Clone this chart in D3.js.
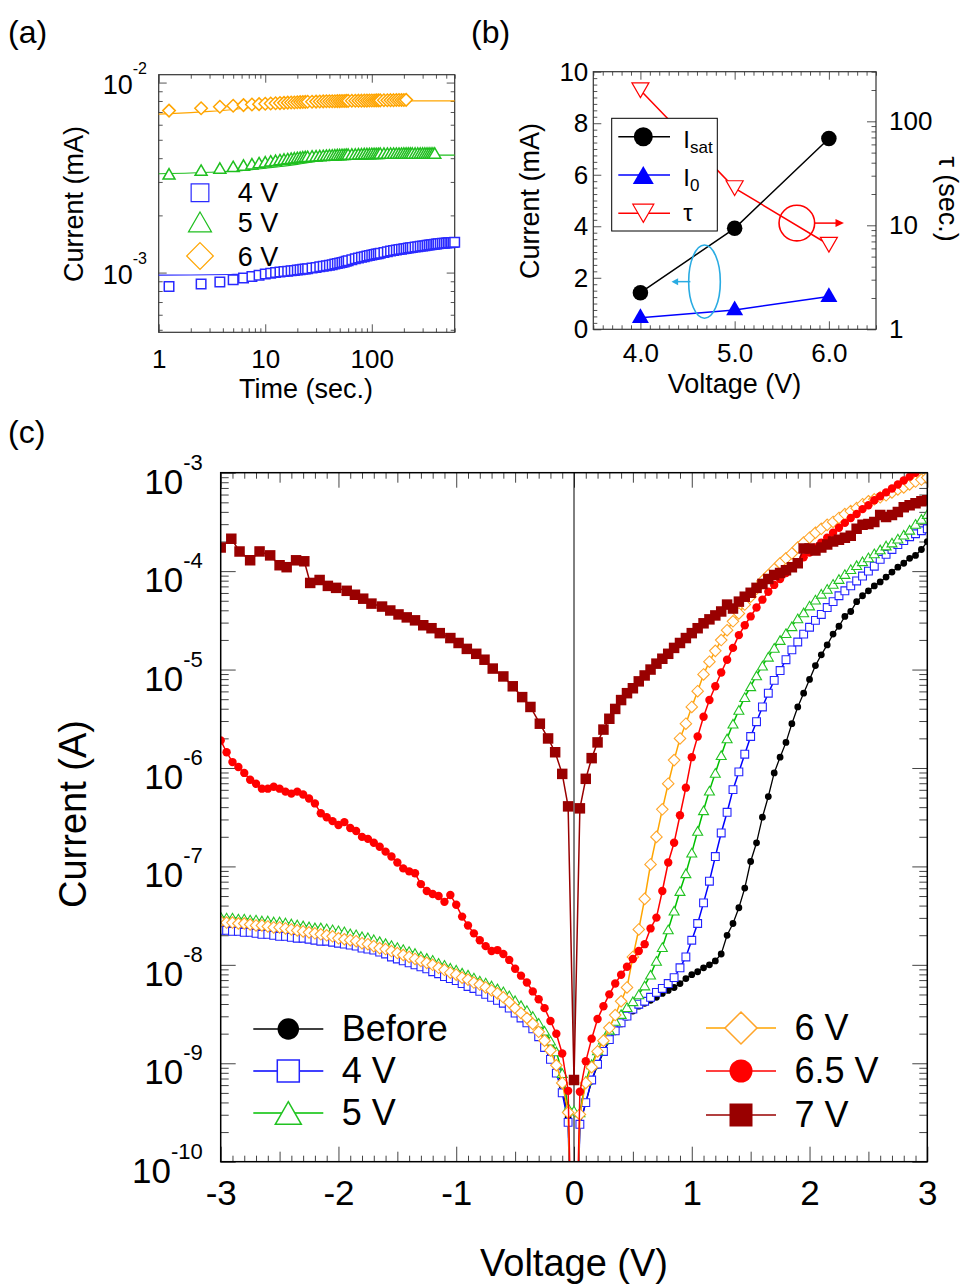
<!DOCTYPE html>
<html>
<head>
<meta charset="utf-8">
<script src="https://cdn.jsdelivr.net/npm/d3@7/dist/d3.min.js"></script>
<style>
  html,body{margin:0;padding:0;background:#fff;}
  svg{display:block;}
</style>
</head>
<body>
<svg id="fig" width="963" height="1286"></svg>
<script>
// ================= DATA =================
// ---- Panel (a): current (mA) vs time (sec.) ----
const timeA = [1.25,2.5,3.75,5,6.25,7.5,8.75,10,11.25,12.5,13.75,15,16.25,17.5,18.75,20,21.25,22.5,23.75,25,
  27.5,30,32.5,35,37.5,40,42.5,45,47.5,50,52.5,55,57.5,60,
  65,70,75,80,85,90,95,100,105,110,115,120,
  130,140,150,160,170,180,190,200,210,220,230,240,
  255,270,285,300,315,330,345,360,375,390,405,420,
  440,460,480,500,520,540,560,580,600];
const curA_4V = [8.44e-4,8.72e-4,8.92e-4,9.16e-4,9.36e-4,9.53e-4,9.68e-4,9.82e-4,9.92e-4,1.000e-3,
  1.007e-3,1.012e-3,1.017e-3,1.022e-3,1.027e-3,1.031e-3,1.036e-3,1.040e-3,1.044e-3,1.048e-3,
  1.056e-3,1.064e-3,1.072e-3,1.080e-3,1.087e-3,1.094e-3,1.101e-3,1.108e-3,1.115e-3,1.122e-3,1.130e-3,1.138e-3,1.146e-3,1.154e-3,
  1.170e-3,1.182e-3,1.193e-3,1.203e-3,1.212e-3,1.221e-3,1.230e-3,1.238e-3,1.245e-3,1.252e-3,1.258e-3,1.264e-3,
  1.276e-3,1.287e-3,1.297e-3,1.306e-3,1.314e-3,1.321e-3,1.328e-3,1.334e-3,1.340e-3,1.346e-3,1.351e-3,1.356e-3,
  1.363e-3,1.369e-3,1.375e-3,1.381e-3,1.386e-3,1.391e-3,1.396e-3,1.400e-3,1.405e-3,1.409e-3,1.413e-3,1.417e-3,
  1.421e-3,1.425e-3,1.428e-3,1.431e-3,1.434e-3,1.437e-3,1.439e-3,1.442e-3,1.444e-3];
const curA_5V = [3.31e-3,3.46e-3,3.55e-3,3.62e-3,3.68e-3,3.74e-3,3.79e-3,3.83e-3,3.87e-3,3.90e-3,
  3.93e-3,3.96e-3,3.98e-3,4.00e-3,4.02e-3,4.04e-3,4.05e-3,4.07e-3,4.08e-3,4.09e-3,
  4.11e-3,4.12e-3,4.13e-3,4.14e-3,4.15e-3,4.16e-3,4.16e-3,4.17e-3,4.18e-3,4.18e-3,4.19e-3,4.19e-3,4.20e-3,4.20e-3,
  4.21e-3,4.21e-3,4.22e-3,4.22e-3,4.23e-3,4.23e-3,4.23e-3,4.24e-3,4.24e-3,4.24e-3,4.24e-3,4.25e-3,
  4.25e-3,4.25e-3,4.25e-3,4.25e-3,4.25e-3,4.25e-3,4.25e-3,4.26e-3,4.26e-3,4.26e-3,4.26e-3,4.26e-3,
  4.26e-3,4.26e-3,4.26e-3,4.26e-3,4.26e-3,4.26e-3,4.26e-3,4.26e-3,4.26e-3,4.26e-3];
const curA_6V = [7.12e-3,7.33e-3,7.46e-3,7.55e-3,7.61e-3,7.66e-3,7.70e-3,7.73e-3,7.76e-3,7.78e-3,
  7.80e-3,7.82e-3,7.84e-3,7.85e-3,7.86e-3,7.88e-3,7.89e-3,7.90e-3,7.91e-3,7.92e-3,
  7.93e-3,7.94e-3,7.95e-3,7.96e-3,7.97e-3,7.97e-3,7.98e-3,7.98e-3,7.99e-3,7.99e-3,8.00e-3,8.00e-3,8.01e-3,8.01e-3,
  8.02e-3,8.02e-3,8.03e-3,8.03e-3,8.04e-3,8.04e-3,8.05e-3,8.05e-3,8.05e-3,8.06e-3,8.06e-3,8.06e-3,
  8.07e-3,8.07e-3,8.08e-3,8.08e-3,8.09e-3,8.09e-3,8.10e-3,8.10e-3,8.11e-3];
const fitT = [1,2,3,5,7,10,15,20,30,50,70,100,150,200,300,400,500,600];
const fitA_4V = [9.70e-4,9.72e-4,9.74e-4,9.78e-4,9.81e-4,9.85e-4,9.93e-4,1.01e-3,1.03e-3,1.08e-3,1.13e-3,1.21e-3,1.27e-3,1.32e-3,1.38e-3,1.41e-3,1.43e-3,1.44e-3];
const fitA_5V = [3.31e-3,3.34e-3,3.37e-3,3.42e-3,3.47e-3,3.54e-3,3.63e-3,3.71e-3,3.84e-3,3.98e-3,4.05e-3,4.09e-3,4.12e-3,4.14e-3,4.15e-3,4.15e-3,4.15e-3,4.15e-3];
const fitA_6V = [6.82e-3,6.95e-3,7.05e-3,7.22e-3,7.38e-3,7.55e-3,7.75e-3,7.86e-3,7.95e-3,8.00e-3,8.01e-3,8.01e-3,8.01e-3,8.01e-3,8.01e-3,8.01e-3,8.01e-3,8.01e-3];
const labelsA = ["4 V","5 V","6 V"];
const ticksA_x = [1,10,100];
const ticksA_yExp = [-3,-2];

// ---- Panel (b): fit parameters vs voltage ----
const voltB = [4.0,5.0,6.0];
const Isat = [1.42,3.92,7.41];
const I0 = [0.45,0.75,1.27];
const tauB = [199,22.8,6.5];
const ticksB_x = [4,5,6];
const ticksB_y = [0,2,4,6,8,10];
const ticksB_tau = [1,10,100];

// ---- Panel (c): I-V curves, log10 of current (A) ----
const voltC = [-3,-2.95,-2.9,-2.85,-2.8,-2.75,-2.7,-2.65,-2.6,-2.55,-2.5,-2.45,-2.4,-2.35,-2.3,-2.25,-2.2,-2.15,-2.1,-2.05,
  -2,-1.95,-1.9,-1.85,-1.8,-1.75,-1.7,-1.65,-1.6,-1.55,-1.5,-1.45,-1.4,-1.35,-1.3,-1.25,-1.2,-1.15,-1.1,-1.05,
  -1,-0.95,-0.9,-0.85,-0.8,-0.75,-0.7,-0.65,-0.6,-0.55,-0.5,-0.45,-0.4,-0.35,-0.3,-0.25,-0.2,-0.15,-0.1,-0.05,
  0,
  0.05,0.1,0.15,0.2,0.25,0.3,0.35,0.4,0.45,0.5,0.55,0.6,0.65,0.7,0.75,0.8,0.85,0.9,0.95,1,
  1.05,1.1,1.15,1.2,1.25,1.3,1.35,1.4,1.45,1.5,1.55,1.6,1.65,1.7,1.75,1.8,1.85,1.9,1.95,2,
  2.05,2.1,2.15,2.2,2.25,2.3,2.35,2.4,2.45,2.5,2.55,2.6,2.65,2.7,2.75,2.8,2.85,2.9,2.95,3];
const logI_before = [-7.59,-7.60,-7.60,-7.61,-7.61,-7.62,-7.63,-7.63,-7.64,-7.65,
  -7.65,-7.66,-7.67,-7.68,-7.69,-7.70,-7.71,-7.72,-7.73,-7.74,
  -7.76,-7.77,-7.78,-7.79,-7.81,-7.82,-7.84,-7.86,-7.87,-7.89,
  -7.91,-7.93,-7.95,-7.97,-7.99,-8.01,-8.03,-8.06,-8.08,-8.11,
  -8.13,-8.16,-8.18,-8.21,-8.23,-8.26,-8.29,-8.32,-8.36,-8.41,
  -8.47,-8.52,-8.57,-8.63,-8.71,-8.80,-8.90,-9.05,-9.23,-9.55,
  -12,
  -9.62,-9.40,-9.18,-9.02,-8.89,-8.77,-8.68,-8.60,-8.53,-8.47,
  -8.42,-8.39,-8.36,-8.33,-8.29,-8.26,-8.23,-8.19,-8.14,-8.10,
  -8.07,-8.03,-8.00,-7.96,-7.89,-7.70,-7.58,-7.42,-7.22,-6.95,
  -6.76,-6.50,-6.29,-6.05,-5.89,-5.74,-5.55,-5.38,-5.24,-5.10,
  -4.96,-4.85,-4.75,-4.64,-4.56,-4.46,-4.41,-4.31,-4.25,-4.20,
  -4.15,-4.11,-4.06,-4.01,-3.96,-3.92,-3.87,-3.84,-3.78,-3.70];
const logI_4V = [-7.65,-7.65,-7.66,-7.66,-7.67,-7.67,-7.68,-7.69,-7.69,-7.70,
  -7.71,-7.71,-7.72,-7.73,-7.73,-7.74,-7.75,-7.76,-7.76,-7.77,
  -7.78,-7.79,-7.80,-7.81,-7.83,-7.84,-7.85,-7.87,-7.89,-7.92,
  -7.94,-7.96,-7.98,-8.00,-8.02,-8.04,-8.07,-8.09,-8.12,-8.14,
  -8.16,-8.19,-8.22,-8.24,-8.27,-8.30,-8.33,-8.36,-8.39,-8.44,
  -8.49,-8.54,-8.59,-8.65,-8.73,-8.84,-8.96,-9.10,-9.30,-9.60,
  -12,
  -9.62,-9.40,-9.17,-9.01,-8.88,-8.76,-8.67,-8.59,-8.52,-8.45,
  -8.40,-8.37,-8.33,-8.28,-8.24,-8.19,-8.13,-8.03,-7.92,-7.75,
  -7.58,-7.37,-7.15,-6.90,-6.66,-6.45,-6.22,-6.04,-5.86,-5.68,
  -5.53,-5.38,-5.24,-5.11,-5.01,-4.90,-4.80,-4.72,-4.64,-4.57,
  -4.50,-4.44,-4.37,-4.31,-4.25,-4.20,-4.15,-4.10,-4.05,-4.00,
  -3.95,-3.88,-3.83,-3.78,-3.73,-3.69,-3.65,-3.62,-3.59,-3.57];
const logI_5V = [-7.51,-7.52,-7.52,-7.53,-7.53,-7.54,-7.54,-7.55,-7.55,-7.56,
  -7.56,-7.57,-7.58,-7.59,-7.60,-7.61,-7.62,-7.62,-7.63,-7.64,
  -7.65,-7.66,-7.68,-7.69,-7.71,-7.72,-7.74,-7.76,-7.78,-7.80,
  -7.82,-7.84,-7.86,-7.88,-7.91,-7.93,-7.95,-7.98,-8.00,-8.03,
  -8.05,-8.08,-8.10,-8.13,-8.16,-8.18,-8.21,-8.24,-8.27,-8.31,
  -8.36,-8.41,-8.46,-8.52,-8.59,-8.67,-8.77,-8.88,-9.10,-9.45,
  -9.48,
  -9.50,-9.18,-9.01,-8.87,-8.76,-8.66,-8.57,-8.50,-8.43,-8.37,
  -8.30,-8.21,-8.10,-7.96,-7.82,-7.64,-7.45,-7.25,-7.07,-6.86,
  -6.64,-6.43,-6.23,-6.05,-5.87,-5.70,-5.55,-5.41,-5.28,-5.17,
  -5.06,-4.96,-4.87,-4.78,-4.70,-4.63,-4.56,-4.48,-4.42,-4.35,
  -4.29,-4.23,-4.18,-4.13,-4.08,-4.03,-3.98,-3.94,-3.90,-3.86,
  -3.82,-3.78,-3.74,-3.71,-3.67,-3.63,-3.58,-3.52,-3.47,-3.42];
const logI_6V = [-7.56,-7.57,-7.57,-7.58,-7.58,-7.59,-7.60,-7.60,-7.61,-7.62,
  -7.62,-7.63,-7.64,-7.65,-7.66,-7.67,-7.68,-7.69,-7.70,-7.71,
  -7.73,-7.74,-7.75,-7.76,-7.78,-7.79,-7.81,-7.83,-7.84,-7.86,
  -7.88,-7.90,-7.92,-7.94,-7.96,-7.98,-8.00,-8.03,-8.05,-8.08,
  -8.10,-8.13,-8.15,-8.18,-8.20,-8.23,-8.26,-8.29,-8.33,-8.38,
  -8.44,-8.49,-8.54,-8.60,-8.68,-8.77,-8.87,-9.02,-9.20,-9.50,
  -12,
  -9.52,-9.20,-9.04,-8.88,-8.77,-8.64,-8.51,-8.37,-8.23,-7.92,
  -7.64,-7.33,-6.98,-6.70,-6.42,-6.16,-5.92,-5.70,-5.55,-5.38,
  -5.22,-5.05,-4.92,-4.81,-4.70,-4.60,-4.51,-4.43,-4.34,-4.26,
  -4.18,-4.10,-4.04,-3.98,-3.92,-3.87,-3.82,-3.76,-3.71,-3.66,
  -3.61,-3.57,-3.53,-3.50,-3.46,-3.42,-3.39,-3.36,-3.32,-3.29,
  -3.27,-3.25,-3.23,-3.20,-3.17,-3.15,-3.12,-3.09,-3.07,-3.05];
const logI_6p5V = [-5.72,-5.84,-5.94,-5.99,-6.05,-6.12,-6.16,-6.21,-6.21,-6.19,
  -6.21,-6.24,-6.26,-6.24,-6.27,-6.31,-6.36,-6.46,-6.50,-6.54,
  -6.58,-6.55,-6.61,-6.64,-6.70,-6.72,-6.76,-6.80,-6.85,-6.90,
  -6.96,-7.02,-7.05,-7.07,-7.18,-7.25,-7.28,-7.30,-7.36,-7.29,
  -7.39,-7.51,-7.60,-7.68,-7.75,-7.81,-7.86,-7.85,-7.89,-7.95,
  -8.04,-8.11,-8.18,-8.27,-8.35,-8.44,-8.57,-8.70,-8.90,-9.28,
  -12,
  -9.29,-8.98,-8.75,-8.55,-8.42,-8.30,-8.19,-8.10,-8.02,-7.94,
  -7.86,-7.79,-7.63,-7.52,-7.25,-6.96,-6.76,-6.48,-6.20,-5.89,
  -5.68,-5.48,-5.31,-5.17,-5.03,-4.90,-4.78,-4.65,-4.55,-4.46,
  -4.37,-4.29,-4.21,-4.14,-4.08,-4.02,-3.96,-3.91,-3.86,-3.81,
  -3.76,-3.71,-3.66,-3.61,-3.56,-3.51,-3.46,-3.42,-3.37,-3.33,
  -3.28,-3.24,-3.20,-3.16,-3.12,-3.08,-3.04,-3.00,null,null];
const volt7Vneg = [-3,-2.91,-2.84,-2.75,-2.67,-2.58,-2.5,-2.44,-2.36,-2.29,
  -2.24,-2.16,-2.09,-2.02,-1.93,-1.86,-1.79,-1.72,-1.63,-1.56,
  -1.49,-1.42,-1.35,-1.28,-1.21,-1.14,-1.05,-0.98,-0.91,-0.83,
  -0.76,-0.69,-0.6,-0.52,-0.44,-0.37,-0.29,-0.22,-0.16,-0.1,-0.05,0];
const logI_7V = [-3.76,-3.67,-3.80,-3.89,-3.80,-3.84,-3.94,-3.96,-3.89,-3.90,
  -4.12,-4.09,-4.15,-4.17,-4.20,-4.24,-4.28,-4.33,-4.36,-4.40,
  -4.44,-4.47,-4.50,-4.55,-4.58,-4.63,-4.68,-4.73,-4.79,-4.84,
  -4.90,-4.99,-5.07,-5.17,-5.28,-5.38,-5.55,-5.70,-5.84,-6.06,-6.39,
  -9.17,
  -6.41,-6.11,-5.90,-5.74,-5.61,-5.50,-5.40,-5.31,-5.24,-5.19,
  -5.12,-5.06,-5.00,-4.94,-4.89,-4.84,-4.78,-4.73,-4.68,-4.63,
  -4.58,-4.53,-4.49,-4.45,-4.41,-4.34,-4.38,-4.31,-4.26,-4.22,
  -4.17,-4.13,-4.08,-4.04,-4.02,-3.99,-3.96,-3.92,-3.77,-3.77,
  -3.79,-3.76,-3.73,-3.70,-3.68,-3.66,-3.64,-3.57,-3.53,-3.52,
  -3.50,-3.43,-3.45,-3.43,-3.40,-3.35,-3.33,-3.31,-3.29,-3.28];
const volt7V = volt7Vneg.concat(voltC.slice(61));
const labelsC = ["Before","4 V","5 V","6 V","6.5 V","7 V"];
const ticksC_x = [-3,-2,-1,0,1,2,3];
const ticksC_yExp = [-10,-9,-8,-7,-6,-5,-4,-3];

// ================= DRAWING =================
const FONT = '"Liberation Sans", Arial, Helvetica, sans-serif';
const svg = d3.select("#fig").attr("font-family", FONT);

function sym(type, s){
  const h = s/2;
  if(type==='square') return `M${-h},${-h}H${h}V${h}H${-h}Z`;
  if(type==='diamond') return `M0,${-h}L${h},0L0,${h}L${-h},0Z`;
  if(type==='triUp'){const t=s*0.866/2; return `M0,${-t}L${h},${t}L${-h},${t}Z`;}
  if(type==='triDown'){const t=s*0.866/2; return `M0,${t}L${h},${-t}L${-h},${-t}Z`;}
  return `M${-h},0A${h},${h} 0 1,0 ${h},0A${h},${h} 0 1,0 ${-h},0Z`;
}
function addAxis(parent, axis, tr, fs, col){
  const g = parent.append("g").attr("transform", tr).call(axis);
  g.select(".domain").remove();
  g.attr("font-family", FONT);
  g.selectAll(".tick line").attr("stroke", col).attr("stroke-width", 1);
  g.selectAll(".tick text").attr("font-size", fs).attr("fill", "#000");
  return g;
}
function supLabel(parent, x, y, base, exp, fs, fsSup, dySup){
  const t = parent.append("text").attr("x", x).attr("y", y).attr("text-anchor","end").attr("font-size", fs).attr("fill","#000");
  t.append("tspan").text(base);
  t.append("tspan").attr("font-size", fsSup).attr("dy", dySup).text(exp);
}
function logMinors(lo, hi){
  const out=[];
  for(let e=Math.floor(Math.log10(lo)); e<=Math.ceil(Math.log10(hi)); e++)
    for(let m=2;m<=9;m++){const v=m*Math.pow(10,e); if(v>=lo*0.999 && v<=hi*1.001) out.push(v);}
  return out;
}

// ---------- Panel (a) ----------
{
  const A = {l:158.7, r:454.7, t:74.7, b:332.3};
  const xa = d3.scaleLog().domain([1,600]).range([A.l,A.r]);
  const ya = d3.scaleLog().domain([4.85e-4,1.1e-2]).range([A.b,A.t]);
  const g = svg.append("g");
  const tc = "#555";
  const xMin = logMinors(1,600), yMaj = ticksA_yExp.map(e=>Math.pow(10,e)), yMin = logMinors(4.85e-4,1.1e-2);
  [[ticksA_x,8],[xMin,4]].forEach(([v,L])=>{
    addAxis(g, d3.axisBottom(xa).tickValues(v).tickSize(-L).tickFormat(""), `translate(0,${A.b})`, 26, tc);
    addAxis(g, d3.axisTop(xa).tickValues(v).tickSize(-L).tickFormat(""), `translate(0,${A.t})`, 26, tc);
  });
  [[yMaj,8],[yMin,4]].forEach(([v,L])=>{
    addAxis(g, d3.axisLeft(ya).tickValues(v).tickSize(-L).tickFormat(""), `translate(${A.l},0)`, 26, tc);
    addAxis(g, d3.axisRight(ya).tickValues(v).tickSize(-L).tickFormat(""), `translate(${A.r},0)`, 26, tc);
  });
  addAxis(g, d3.axisBottom(xa).tickValues(ticksA_x).tickSize(0).tickPadding(17).tickFormat(d=>String(d)), `translate(0,${A.b})`, 26, tc);
  ticksA_yExp.forEach(e=> supLabel(g, A.l-11.7, ya(Math.pow(10,e))+11, "10", String(e), 27, 16, -20));
  g.append("rect").attr("x",A.l).attr("y",A.t).attr("width",A.r-A.l).attr("height",A.b-A.t)
    .attr("fill","none").attr("stroke","#333").attr("stroke-width",1.2);

  const sA = [
    {cur:curA_4V, fit:fitA_4V, color:"#2a2aff", mark:"square", size:9.5},
    {cur:curA_5V, fit:fitA_5V, color:"#1fbf1f", mark:"triUp", size:12},
    {cur:curA_6V, fit:fitA_6V, color:"#ffa500", mark:"diamond", size:12.5}
  ];
  const dg = g.append("g");
  const line = d3.line().x(d=>xa(d[0])).y(d=>ya(d[1])).curve(d3.curveMonotoneX);
  sA.forEach(s=>{
    dg.append("path").attr("d", line(fitT.map((t,i)=>[t,s.fit[i]]))).attr("fill","none").attr("stroke",s.color).attr("stroke-width",1.1);
    dg.selectAll(null).data(s.cur.map((c,i)=>[timeA[i],c])).enter().append("path")
      .attr("d", sym(s.mark,s.size)).attr("transform", d=>`translate(${xa(d[0])},${ya(d[1])})`)
      .attr("fill","#fff").attr("stroke",s.color).attr("stroke-width",1.5);
  });
  // legend
  const lg = g.append("g");
  const legY = [192.7,222,256], legS=[17.7,23,26.7];
  sA.forEach((s,i)=>{
    lg.append("path").attr("d", sym(s.mark, legS[i])).attr("transform",`translate(${A.l+41.3},${legY[i]})`)
      .attr("fill","none").attr("stroke",s.color).attr("stroke-width",1.2);
    lg.append("text").attr("x",A.l+79).attr("y",legY[i]+9.5).attr("font-size",27).text(labelsA[i]);
  });
  g.append("text").attr("transform","translate(83,204) rotate(-90)").attr("text-anchor","middle").attr("font-size",27).text("Current (mA)");
  g.append("text").attr("x",306).attr("y",398).attr("text-anchor","middle").attr("font-size",27).text("Time (sec.)");
  g.append("text").attr("x",8).attr("y",43).attr("font-size",32).text("(a)");
}

// ---------- Panel (b) ----------
{
  const B = {l:593.3, r:876, t:71.7, b:329.3};
  const xb = d3.scaleLinear().domain([3.5,6.5]).range([B.l,B.r]);
  const yb = d3.scaleLinear().domain([0,10]).range([B.b,B.t]);
  const yt = d3.scaleLog().domain([1,300]).range([B.b,B.t]);
  const g = svg.append("g");
  const tc = "#555";
  const xMin=[], yMin=[];
  for(let k=35;k<=65;k++){ if(k%10!==0) xMin.push(k/10); }
  for(let k=0;k<=40;k++){ if(k%8!==0) yMin.push(k/4); }
  const tMin = logMinors(1,300);
  [[ticksB_x,8],[xMin,4]].forEach(([v,L])=>{
    addAxis(g, d3.axisBottom(xb).tickValues(v).tickSize(-L).tickFormat(""), `translate(0,${B.b})`, 26, tc);
    addAxis(g, d3.axisTop(xb).tickValues(v).tickSize(-L).tickFormat(""), `translate(0,${B.t})`, 26, tc);
  });
  addAxis(g, d3.axisLeft(yb).tickValues(ticksB_y).tickSize(-8).tickPadding(5).tickFormat(d=>String(d)), `translate(${B.l},0)`, 26, tc);
  addAxis(g, d3.axisLeft(yb).tickValues(yMin).tickSize(-4).tickFormat(""), `translate(${B.l},0)`, 26, tc);
  addAxis(g, d3.axisRight(yt).tickValues(ticksB_tau).tickSize(-9).tickPadding(13).tickFormat(d=>String(d)), `translate(${B.r},0)`, 26, tc);
  addAxis(g, d3.axisRight(yt).tickValues(tMin).tickSize(-4.5).tickFormat(""), `translate(${B.r},0)`, 26, tc);
  addAxis(g, d3.axisBottom(xb).tickValues(ticksB_x).tickSize(0).tickPadding(14).tickFormat(d3.format(".1f")), `translate(0,${B.b})`, 26, tc);
  g.append("rect").attr("x",B.l).attr("y",B.t).attr("width",B.r-B.l).attr("height",B.b-B.t)
    .attr("fill","none").attr("stroke","#333").attr("stroke-width",1.2);

  const lineL = d3.line().x(d=>xb(d[0])).y(d=>yb(d[1]));
  const lineT = d3.line().x(d=>xb(d[0])).y(d=>yt(d[1]));
  g.append("path").attr("d", lineT(voltB.map((v,i)=>[v,tauB[i]]))).attr("fill","none").attr("stroke","#ff0000").attr("stroke-width",1.5);
  g.append("path").attr("d", lineL(voltB.map((v,i)=>[v,Isat[i]]))).attr("fill","none").attr("stroke","#000").attr("stroke-width",1.5);
  g.append("path").attr("d", lineL(voltB.map((v,i)=>[v,I0[i]]))).attr("fill","none").attr("stroke","#0000ff").attr("stroke-width",1.5);
  voltB.forEach((v,i)=>{
    g.append("path").attr("d",sym("triDown",17)).attr("transform",`translate(${xb(v)},${yt(tauB[i])})`).attr("fill","#fff").attr("stroke","#ff0000").attr("stroke-width",1.2);
    g.append("path").attr("d",sym("circle",15.5)).attr("transform",`translate(${xb(v)},${yb(Isat[i])})`).attr("fill","#000");
    g.append("path").attr("d",sym("triUp",17)).attr("transform",`translate(${xb(v)},${yb(I0[i])-2})`).attr("fill","#0000ff");
  });
  // legend box
  const lx = B.l+18.4, ly = B.t+46.6;
  g.append("rect").attr("x",lx).attr("y",ly).attr("width",105.6).attr("height",112.7).attr("fill","#fff").attr("stroke","#000").attr("stroke-width",1);
  const le = [
    {y:ly+18.4, c:"#000", m:"circle", s:19, f:"#000"},
    {y:ly+56.7, c:"#0000ff", m:"triUp", s:21, f:"#0000ff"},
    {y:ly+95, c:"#ff0000", m:"triDown", s:21, f:"#fff"}
  ];
  le.forEach(e=>{
    g.append("line").attr("x1",lx+6.6).attr("x2",lx+58.3).attr("y1",e.y).attr("y2",e.y).attr("stroke",e.c).attr("stroke-width",1.5);
    g.append("path").attr("d",sym(e.m,e.s)).attr("transform",`translate(${lx+31.6},${e.y})`).attr("fill",e.f).attr("stroke",e.f==="#fff"?e.c:"none").attr("stroke-width",1.2);
  });
  const t1 = g.append("text").attr("x",lx+71.6).attr("y",ly+30).attr("font-size",24);
  t1.append("tspan").text("I"); t1.append("tspan").attr("font-size",17).attr("dy",5).text("sat");
  const t2 = g.append("text").attr("x",lx+71.6).attr("y",ly+67.5).attr("font-size",24);
  t2.append("tspan").text("I"); t2.append("tspan").attr("font-size",17).attr("dy",5).text("0");
  g.append("text").attr("x",lx+71.6).attr("y",ly+103).attr("font-size",24).text("τ");
  // annotations: ellipse + arrow (left axis), circle + arrow (right axis)
  const ecx = xb(4.68), ecy = yb(1.85);
  g.append("ellipse").attr("cx",ecx).attr("cy",ecy).attr("rx",xb(4.848)-ecx).attr("ry",yb(0)-yb(1.42))
    .attr("fill","none").attr("stroke","#29abe2").attr("stroke-width",1.6);
  g.append("line").attr("x1",xb(4.53)).attr("x2",xb(4.38)).attr("y1",ecy).attr("y2",ecy).attr("stroke","#29abe2").attr("stroke-width",1.5);
  g.append("path").attr("d",`M${xb(4.33)},${ecy}L${xb(4.40)},${ecy-3.5}L${xb(4.40)},${ecy+3.5}Z`).attr("fill","#29abe2");
  const rcx = xb(5.66), rcy = yt(10.5);
  g.append("circle").attr("cx",rcx).attr("cy",rcy).attr("r",17.8).attr("fill","none").attr("stroke","#ff0000").attr("stroke-width",1.6);
  g.append("line").attr("x1",xb(5.85)).attr("x2",xb(6.08)).attr("y1",rcy).attr("y2",rcy).attr("stroke","#ff0000").attr("stroke-width",1.5);
  g.append("path").attr("d",`M${xb(6.16)},${rcy}L${xb(6.07)},${rcy-4}L${xb(6.07)},${rcy+4}Z`).attr("fill","#ff0000");
  g.append("text").attr("transform","translate(539,201) rotate(-90)").attr("text-anchor","middle").attr("font-size",27).text("Current (mA)");
  g.append("text").attr("x",734.5).attr("y",393).attr("text-anchor","middle").attr("font-size",27).text("Voltage (V)");
  g.append("text").attr("transform","translate(939,199) rotate(90)").attr("text-anchor","middle").attr("font-size",27).text("τ (sec.)");
  g.append("text").attr("x",471).attr("y",43).attr("font-size",32).text("(b)");
}

// ---------- Panel (c) ----------
{
  const C = {l:220.7, r:927.3, t:472.7, b:1161.7};
  const xc = d3.scaleLinear().domain([-3,3]).range([C.l,C.r]);
  const yc = d3.scaleLog().domain([1e-10,1e-3]).range([C.b,C.t]);
  const g = svg.append("g");
  const tc = "#444";
  const xMin=[], xMid=[];
  for(let k=-30;k<=30;k++){ if(k%10===0) continue; (k%5===0?xMid:xMin).push(k/10); }
  const yMaj = ticksC_yExp.map(e=>Math.pow(10,e));
  const yMin = logMinors(1e-10,1e-3);
  [[ticksC_x,15],[xMid,10],[xMin,6]].forEach(([v,L])=>{
    addAxis(g, d3.axisBottom(xc).tickValues(v).tickSize(-L).tickFormat(""), `translate(0,${C.b})`, 35, tc);
    addAxis(g, d3.axisTop(xc).tickValues(v).tickSize(-L).tickFormat(""), `translate(0,${C.t})`, 35, tc);
  });
  [[yMaj,15],[yMin,8]].forEach(([v,L])=>{
    addAxis(g, d3.axisLeft(yc).tickValues(v).tickSize(-L).tickFormat(""), `translate(${C.l},0)`, 35, tc);
    addAxis(g, d3.axisRight(yc).tickValues(v).tickSize(-L).tickFormat(""), `translate(${C.r},0)`, 35, tc);
  });
  addAxis(g, d3.axisBottom(xc).tickValues(ticksC_x).tickSize(0).tickPadding(18).tickFormat(d=>String(d)), `translate(0,${C.b})`, 35, tc);
  ticksC_yExp.forEach(e=> supLabel(g, C.l-18, yc(Math.pow(10,e))+21, "10", String(e), 35, 22, -24));
  // zero line
  g.append("line").attr("x1",xc(0)).attr("x2",xc(0)).attr("y1",C.t).attr("y2",C.b).attr("stroke","#000").attr("stroke-width",1);

  svg.append("defs").append("clipPath").attr("id","clipC").append("rect")
    .attr("x",C.l).attr("y",C.t).attr("width",C.r-C.l).attr("height",C.b-C.t);
  const dg = g.append("g").attr("clip-path","url(#clipC)");
  const sC = [
    {volt:voltC, logI:logI_before, color:"#000000", mark:"circle", size:6.8, fill:"#000", stroke:"none", lw:1.3},
    {volt:voltC, logI:logI_4V, color:"#0000ff", mark:"square", size:7.8, fill:"#fff", stroke:"#2424ff", lw:1.5},
    {volt:voltC, logI:logI_5V, color:"#00c000", mark:"triUp", size:10, fill:"#fff", stroke:"#22c222", lw:1.5},
    {volt:voltC, logI:logI_6V, color:"#ffa500", mark:"diamond", size:11.5, fill:"#fff", stroke:"#ffa52a", lw:1.5},
    {volt:voltC, logI:logI_6p5V, color:"#ff0000", mark:"circle", size:8.4, fill:"#ff0000", stroke:"none", lw:1.5},
    {volt:volt7V, logI:logI_7V, color:"#990000", mark:"square", size:10.5, fill:"#990000", stroke:"none", lw:1.5}
  ];
  const line = d3.line().defined(d=>d.I!=null).x(d=>xc(d.v)).y(d=>yc(d.I));
  sC.forEach(s=>{
    const pts = s.volt.map((v,i)=>({v, I: (s.logI[i]==null||s.logI[i]===undefined)?null:Math.pow(10,s.logI[i])}));
    dg.append("path").attr("d", line(pts)).attr("fill","none").attr("stroke",s.color).attr("stroke-width",s.lw);
    dg.selectAll(null).data(pts.filter(d=>d.I!=null)).enter().append("path")
      .attr("d", sym(s.mark,s.size)).attr("transform", d=>`translate(${xc(d.v)},${yc(d.I)})`)
      .attr("fill", s.fill).attr("stroke", s.stroke).attr("stroke-width",1.1);
  });
  g.append("rect").attr("x",C.l).attr("y",C.t).attr("width",C.r-C.l).attr("height",C.b-C.t)
    .attr("fill","none").attr("stroke","#000").attr("stroke-width",1.5);

  // legends
  const legSizes = [21.5,22,26,32,23,23];
  const legPos = [
    {x0:C.l+32.6, y:1029},{x0:C.l+32.6, y:1071},{x0:C.l+32.6, y:1113},
    {x0:C.l+485.3, y:1028},{x0:C.l+485.3, y:1071},{x0:C.l+485.3, y:1115}
  ];
  sC.forEach((s,i)=>{
    const p = legPos[i];
    g.append("line").attr("x1",p.x0).attr("x2",p.x0+70).attr("y1",p.y).attr("y2",p.y).attr("stroke",s.color).attr("stroke-width",1.6);
    g.append("path").attr("d",sym(s.mark,legSizes[i])).attr("transform",`translate(${p.x0+35},${p.y})`)
      .attr("fill",s.fill).attr("stroke",s.stroke).attr("stroke-width",1.5);
    g.append("text").attr("x",p.x0+88.5).attr("y",p.y+12).attr("font-size",36).text(labelsC[i]);
  });
  g.append("text").attr("transform","translate(86,814) rotate(-90)").attr("text-anchor","middle").attr("font-size",38).text("Current (A)");
  g.append("text").attr("x",574).attr("y",1276).attr("text-anchor","middle").attr("font-size",38).text("Voltage (V)");
  g.append("text").attr("x",8).attr("y",443).attr("font-size",32).text("(c)");
}
</script>
</body>
</html>
